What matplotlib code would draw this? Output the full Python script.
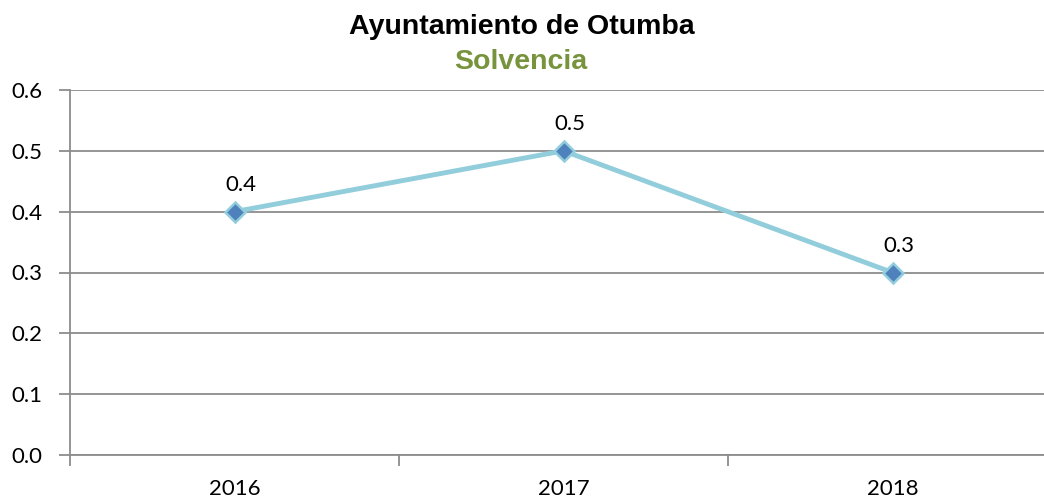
import matplotlib
matplotlib.use('Agg')
import matplotlib.pyplot as plt

years = ['2016', '2017', '2018']
solvencia = [0.4, 0.5, 0.3]
y_ticks = [0.0, 0.1, 0.2, 0.3, 0.4, 0.5, 0.6]

fig = plt.figure(figsize=(10.44, 5.0), dpi=100)
ax = fig.add_axes([70 / 1044, 45 / 500, 987 / 1044, 365 / 500])

x = list(range(len(years)))
ax.plot(x, solvencia, color='#92CDDC', linewidth=3.5, marker='D',
        markersize=10, markerfacecolor='#4F81BD', markeredgecolor='#92CDDC',
        markeredgewidth=1.8, zorder=3)

# etiquetas de datos
for xi, v in zip(x, solvencia):
    ax.annotate(f'{v:.1f}', (xi, v), xytext=(4.5, 19), textcoords='offset points',
                ha='center', va='center', fontsize=16, family='Lato')

ax.set_xlim(-0.5, len(years) - 0.5)
ax.set_ylim(0, 0.6)
ax.set_yticks(y_ticks)
ax.set_yticklabels([f'{t:.1f}' for t in y_ticks], fontsize=16, family='Lato')
ax.yaxis.grid(True, color='#8C8C8C', linewidth=1.3)
ax.set_axisbelow(True)

# ticks entre categorías
ax.set_xticks([i + 0.5 for i in x[:-1]] + [-0.5])
ax.set_xticklabels([])
ax.set_xticks(x, minor=True)
ax.set_xticklabels(years, minor=True, fontsize=16, family='Lato')
ax.tick_params(axis='x', which='minor', length=0, pad=17)
ax.tick_params(axis='x', which='major', length=8, color='#8C8C8C', width=1.3)
ax.tick_params(axis='y', length=8, color='#8C8C8C', width=1.3, pad=12)

for s in ['top', 'right']:
    ax.spines[s].set_visible(False)
for s in ['left', 'bottom']:
    ax.spines[s].set_color('#8C8C8C')
    ax.spines[s].set_linewidth(1.3)

fig.text(522 / 1044, 1 - 27.5 / 500, 'Ayuntamiento de Otumba', ha='center', va='center',
         fontsize=20.5, fontweight='bold', family='Liberation Sans')
fig.text(521 / 1044, 1 - 62 / 500, 'Solvencia', ha='center', va='center',
         fontsize=20.5, fontweight='bold', family='Liberation Sans', color='#77933C')

fig.savefig('out.png', dpi=100)
